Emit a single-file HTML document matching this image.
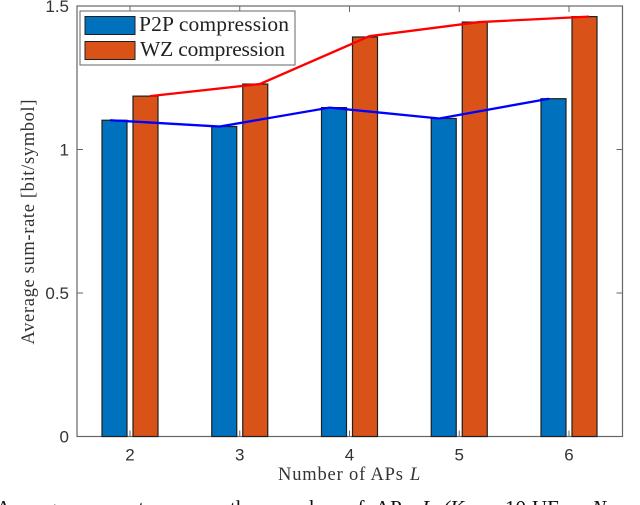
<!DOCTYPE html>
<html lang="en">
<head>
<meta charset="utf-8">
<title>Average sum-rate versus number of APs</title>
<style>
html,body{margin:0;padding:0;background:#fff;width:640px;height:505px;overflow:hidden}
svg{display:block}
.tick{font-family:"Liberation Sans",sans-serif;font-size:17px;fill:#333}
.lab{font-family:"Liberation Serif",serif;font-size:18.5px;fill:#333}
.leg{font-family:"Liberation Serif",serif;font-size:21.5px;fill:#222}
.cap{font-family:"Liberation Serif",serif;font-size:21px;fill:#111}
</style>
</head>
<body>
<svg id="chart" xmlns="http://www.w3.org/2000/svg" width="640" height="505" viewBox="0 0 640 505"></svg>
<script>
var categories = [2, 3, 4, 5, 6];
var p2pBars = [1.102, 1.08, 1.146, 1.108, 1.177];
var wzBars = [1.186, 1.228, 1.392, 1.444, 1.463];
var p2pLine = [1.102, 1.08, 1.146, 1.108, 1.177];
var wzLine = [1.186, 1.228, 1.395, 1.444, 1.463];
var yTicks = [0, 0.5, 1, 1.5];

var plot = {left: 77, right: 622.5, top: 6, bottom: 436.5};
var BLUE = '#0072BD', ORANGE = '#D95319', EDGE = '#1f1f1f', AXIS = '#666';
var svg = document.getElementById('chart');
var NS = 'http://www.w3.org/2000/svg';

function xScale(v) { return 130 + (v - 2) * 109.75; }
function yScale(v) { return plot.bottom - v * (plot.bottom - plot.top) / 1.5; }
function make(tag, attrs, text) {
  var el = document.createElementNS(NS, tag);
  for (var k in attrs) el.setAttribute(k, attrs[k]);
  if (text !== undefined) el.textContent = text;
  svg.appendChild(el);
  return el;
}
var el;

el = make('rect', {x: plot.left, y: plot.top, width: plot.right - plot.left, height: plot.bottom - plot.top, fill: '#fff', stroke: AXIS, 'stroke-width': 1.2});



categories.forEach(function (c) {
  var x = xScale(c);
  el = make('line', {x1: x, x2: x, y1: plot.bottom, y2: plot.bottom - 6, stroke: AXIS, 'stroke-width': 1});
  
  
  el = make('line', {x1: x, x2: x, y1: plot.top, y2: plot.top + 6, stroke: AXIS, 'stroke-width': 1});
  
  
  el = make('text', {x: x, y: 460.5, 'text-anchor': 'middle', 'class': 'tick'}, String(c));
  
  
});

yTicks.forEach(function (t) {
  var y = yScale(t);
  el = make('line', {x1: plot.left, x2: plot.left + 6, y1: y, y2: y, stroke: AXIS, 'stroke-width': 1});
  
  
  el = make('line', {x1: plot.right, x2: plot.right - 6, y1: y, y2: y, stroke: AXIS, 'stroke-width': 1});
  
  
  el = make('text', {x: 69, y: y + 6, 'text-anchor': 'end', 'class': 'tick'}, String(t));
  
  
});

function drawBars(values, offset, fill, name) {
  values.forEach(function (v, i) {
    var cx = xScale(categories[i]) + offset;
    var top = yScale(v);
    var bar = make('rect', {x: cx - 12.5, y: top, width: 25, height: plot.bottom - top, fill: fill, stroke: EDGE, 'stroke-width': 1.2});
    
    
  });
}
drawBars(p2pBars, -15.5, BLUE, 'bar-p2p');
drawBars(wzBars, 15.5, ORANGE, 'bar-wz');

function drawLine(values, offset, color, name) {
  var pts = values.map(function (v, i) {
    return (xScale(categories[i]) + offset) + ',' + yScale(v);
  }).join(' ');
  var line = make('polyline', {points: pts, fill: 'none', stroke: color, 'stroke-width': 2.3});
  
  
}
drawLine(p2pLine, -20, '#0000FF', 'line-p2p');
drawLine(wzLine, 20, '#FF0000', 'line-wz');

el = make('rect', {x: 80, y: 11, width: 215, height: 54, fill: '#fff', stroke: AXIS, 'stroke-width': 1});


el = make('rect', {x: 85, y: 16.5, width: 50, height: 18, fill: BLUE, stroke: EDGE, 'stroke-width': 1});


el = make('rect', {x: 85, y: 41.5, width: 50, height: 18, fill: ORANGE, stroke: EDGE, 'stroke-width': 1});


el = make('text', {x: 139, y: 31, 'class': 'leg', textLength: 150, lengthAdjust: 'spacing'}, 'P2P compression');


el = make('text', {x: 140, y: 56, 'class': 'leg', textLength: 145, lengthAdjust: 'spacing'}, 'WZ compression');



el = make('text', {x: 278, y: 480, 'class': 'lab', textLength: 125, lengthAdjust: 'spacing'}, 'Number of APs');


el = make('text', {x: 410, y: 480, 'class': 'lab', 'font-style': 'italic'}, 'L');



el = make('text', {x: 0, y: 0, 'class': 'lab', 'text-anchor': 'middle', transform: 'translate(34 222) rotate(-90)', textLength: 245, lengthAdjust: 'spacing'}, 'Average sum-rate [bit/symbol]');



var captionWords = [
  ['Average', -4, 'normal'], ['sum-rate', 80, 'normal'], ['versus', 165, 'normal'],
  ['the', 230, 'normal'], ['number', 272, 'normal'], ['of', 347, 'normal'],
  ['APs', 375, 'normal'], ['L', 422, 'italic'], ['(K', 443, 'italic'],
  ['=', 474, 'normal'], ['10', 505, 'normal'], ['UEs,', 532, 'normal'], ['N', 592, 'italic']
];
captionWords.forEach(function (w) {
  var word = make('text', {x: w[1], y: 515, 'class': 'cap', 'font-style': w[2]}, w[0]);
  
  
});
</script>
</body>
</html>
